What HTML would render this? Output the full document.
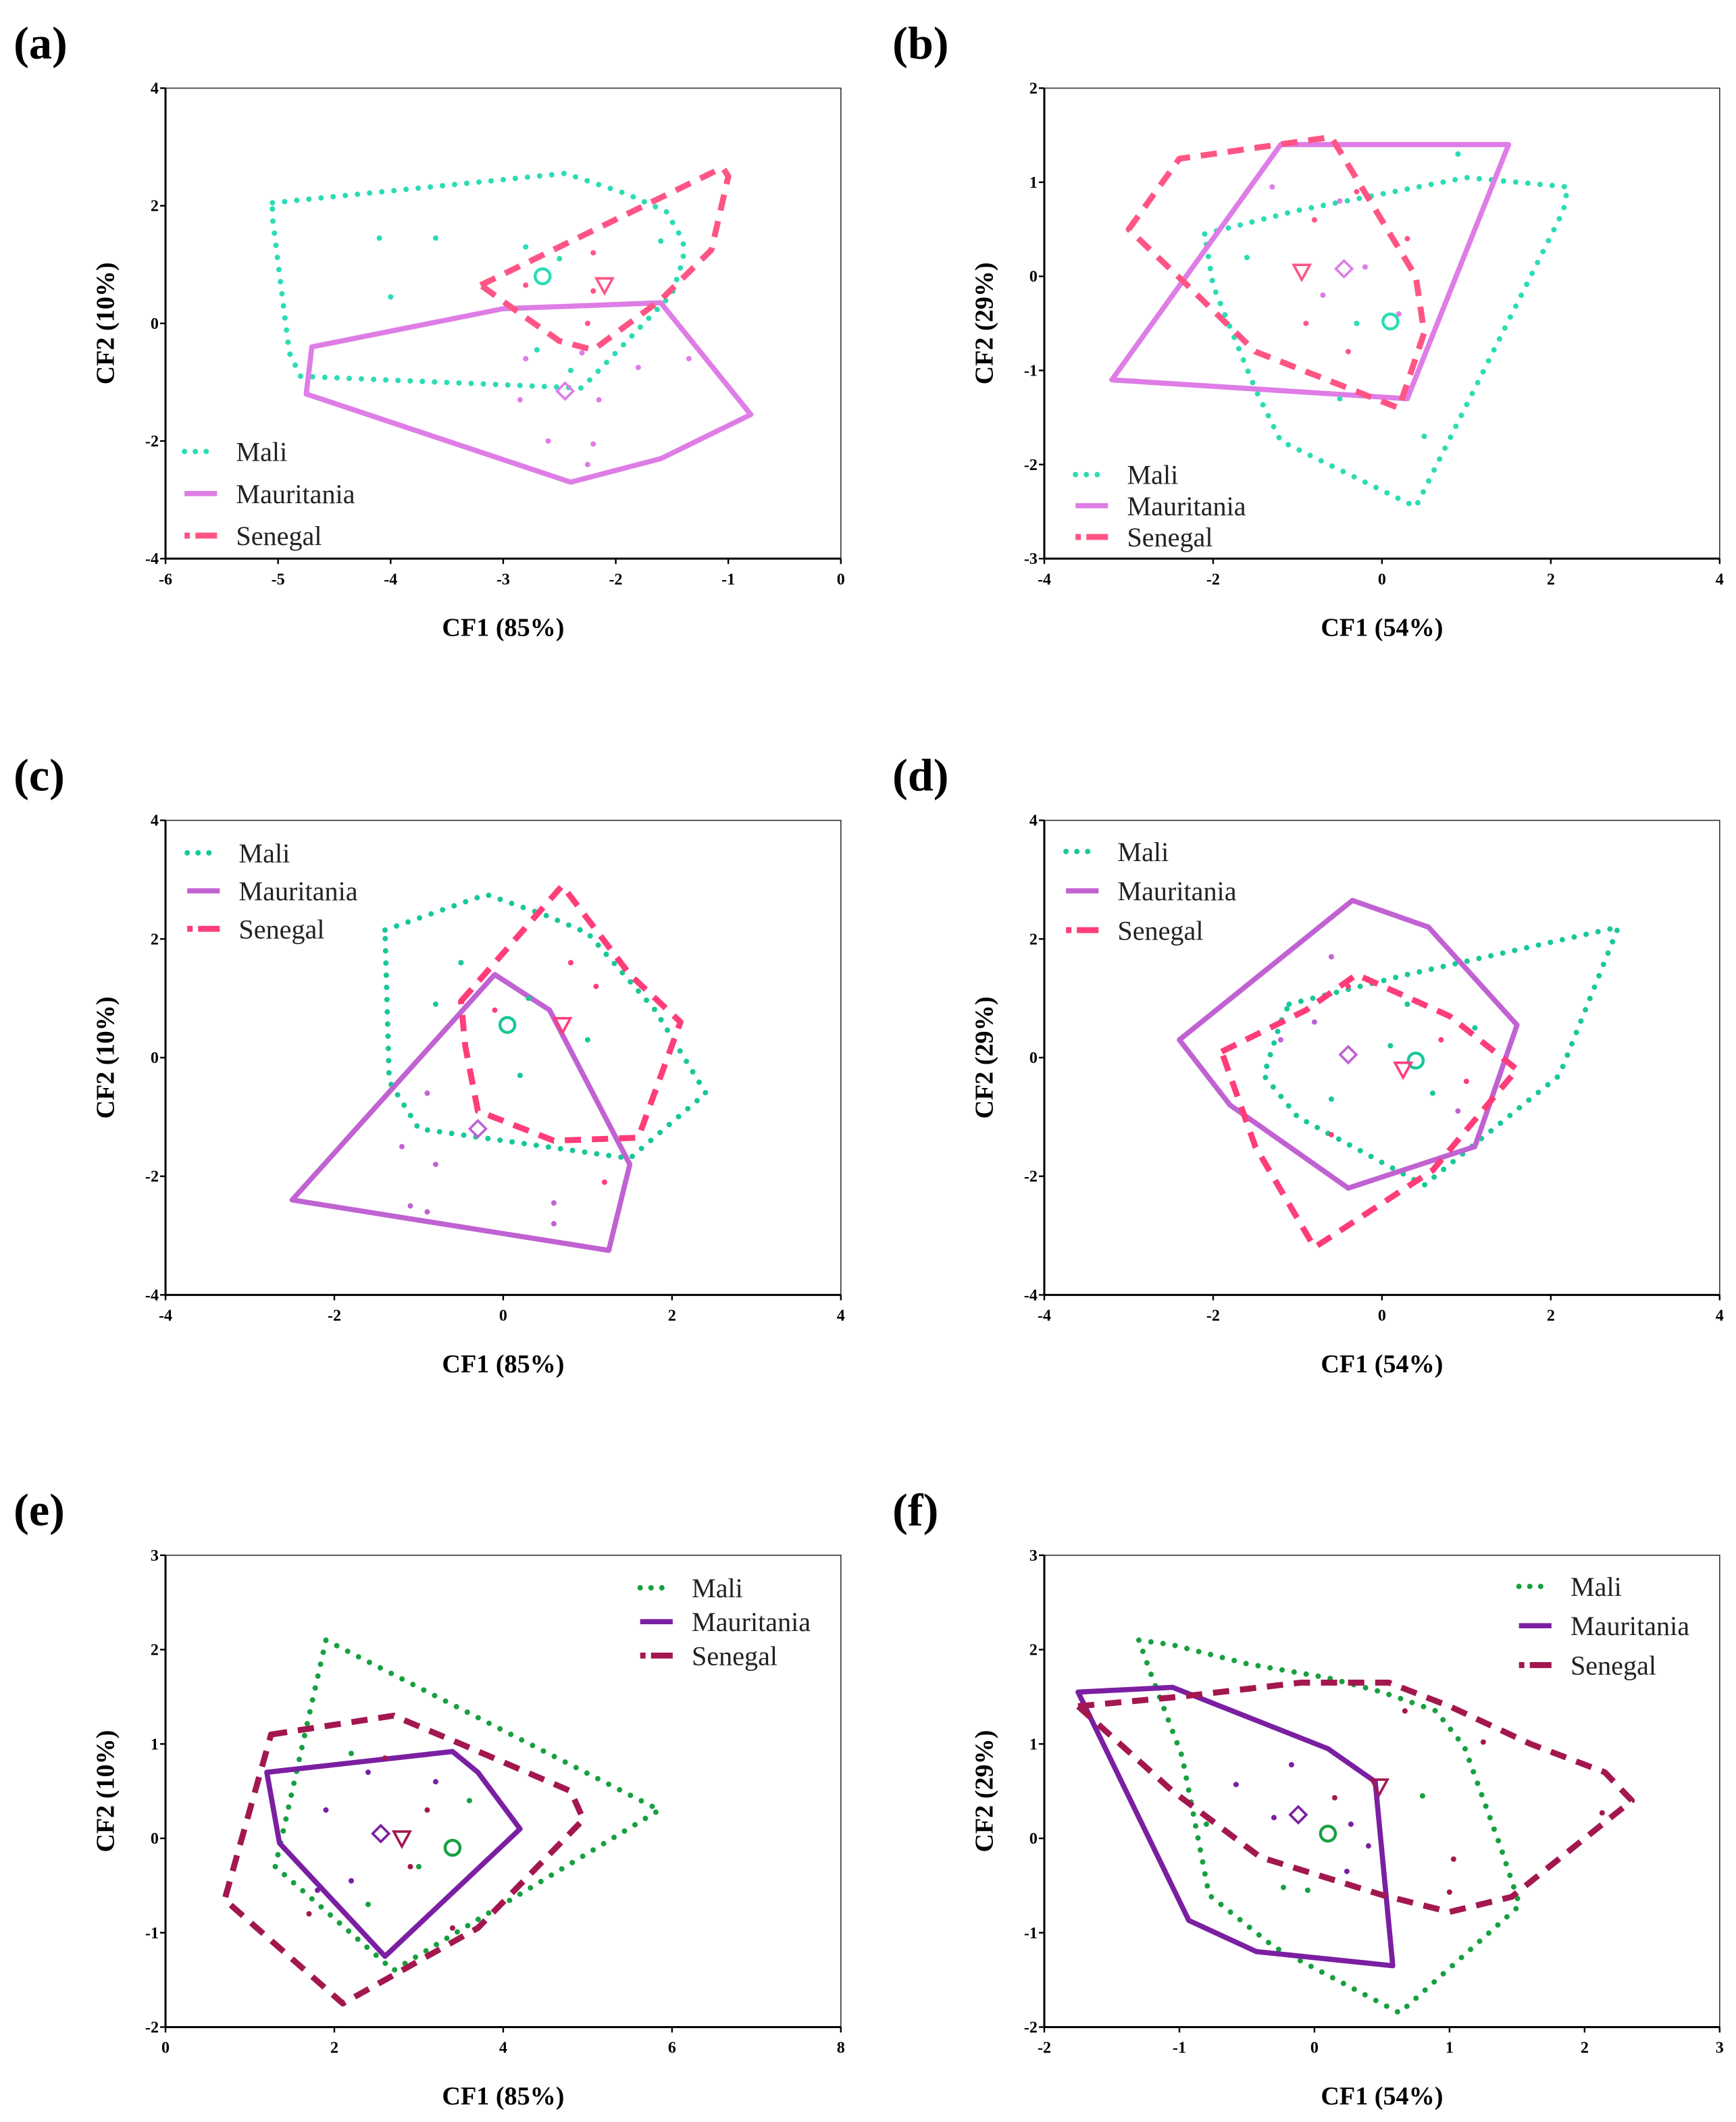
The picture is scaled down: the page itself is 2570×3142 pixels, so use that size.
<!DOCTYPE html>
<html><head><meta charset="utf-8">
<style>
html,body{margin:0;padding:0;background:#fff;}
svg{display:block;}
text{font-family:"Liberation Serif",serif;}
</style></head>
<body>
<svg id="fig" width="2570" height="3142" viewBox="0 0 1280 1565" xmlns="http://www.w3.org/2000/svg"></svg>
<script>
// ---- data (CF1, CF2) per panel ----
const aMali = [[-5.05,2.05],[-2.45,2.55],[-1.9,2.2],[-1.55,1.9],[-1.4,1.4],[-1.4,1.1],[-1.5,0.5],[-1.8,-0.1],[-2.3,-1.1],[-4.8,-0.9],[-4.9,-0.5],[-5.05,1.8]];
const aMaur = [[-4.7,-0.4],[-3,0.25],[-1.6,0.35],[-0.8,-1.55],[-1.6,-2.3],[-2.4,-2.7],[-4.75,-1.2]];
const aSen = [[-3.2,0.65],[-1.05,2.65],[-1.0,2.5],[-1.15,1.25],[-1.6,0.4],[-2.2,-0.45],[-2.5,-0.3],[-2.8,0.1]];
const aCent = [[-2.65,0.8],[-2.45,-1.15],[-2.1,0.65]];
const aPtsMali = [[-4.1,1.45],[-3.6,1.45],[-4.0,0.45],[-2.8,1.3],[-2.5,1.1],[-1.6,1.4],[-2.4,-0.8],[-2.7,-0.45]];
const aPtsMaur = [[-2.8,-0.6],[-2.3,-0.5],[-1.8,-0.75],[-1.35,-0.6],[-2.85,-1.3],[-2.6,-2.0],[-2.2,-2.05],[-2.25,-2.4],[-2.15,-1.3]];
const aPtsSen = [[-2.8,0.65],[-2.2,0.55],[-2.25,0.0],[-2.2,1.2]];

const bMali = [[-2.1,0.45],[-1,0.7],[1.0,1.05],[2.2,0.95],[2.15,0.7],[0.4,-2.45],[-1.2,-1.75],[-1.5,-1.2],[-2.0,-0.1]];
const bMaur = [[-1.2,1.4],[1.5,1.4],[0.3,-1.3],[-3.2,-1.1]];
const bSen = [[-3.0,0.5],[-2.4,1.25],[-0.6,1.48],[0.4,0.0],[0.5,-0.6],[0.2,-1.4],[-1.5,-0.8],[-2.3,-0.1]];
const bCent = [[0.1,-0.48],[-0.45,0.08],[-0.95,0.05]];
const bPtsMali = [[-0.3,-0.5],[0.5,-1.7],[-0.5,-1.3],[0.9,1.3],[-1.6,0.2]];
const bPtsMaur = [[-1.3,0.95],[-0.5,0.8],[-0.2,0.1],[0.2,-0.4],[-0.7,-0.2]];
const bPtsSen = [[-0.8,0.6],[-0.3,0.9],[-0.9,-0.5],[0.3,0.4],[-0.4,-0.8]];

const cMali = [[-1.4,2.15],[-0.2,2.75],[0.5,2.4],[1.0,2.1],[1.8,0.8],[2.4,-0.6],[1.5,-1.7],[-1.0,-1.2],[-1.35,-0.4]];
const cMaur = [[-0.1,1.4],[0.55,0.8],[1.5,-1.8],[1.25,-3.25],[-2.5,-2.4]];
const cSen = [[-0.5,0.95],[0.7,2.9],[1.5,1.4],[2.1,0.6],[1.6,-1.35],[0.6,-1.4],[-0.3,-0.9],[-0.45,0.2]];
const cCent = [[0.05,0.55],[-0.3,-1.2],[0.7,0.55]];
const cPtsMali = [[-0.8,0.9],[0.2,-0.3],[-0.5,1.6],[1.0,0.3],[0.3,1.0]];
const cPtsMaur = [[-1.2,-1.5],[-0.8,-1.8],[-1.1,-2.5],[-0.9,-2.6],[0.6,-2.45],[0.6,-2.8],[-0.9,-0.6]];
const cPtsSen = [[1.1,1.2],[0.8,1.6],[1.2,-2.1],[-0.1,0.8]];

const dMali = [[-1.1,0.9],[0.3,1.4],[2.8,2.2],[2.1,-0.3],[0.5,-2.15],[-1.0,-1.0],[-1.4,-0.3],[-1.2,0.6]];
const dMaur = [[-0.35,2.65],[0.55,2.2],[1.6,0.55],[1.1,-1.5],[-0.4,-2.2],[-1.8,-0.8],[-2.4,0.3]];
const dSen = [[-1.9,0.1],[-0.9,0.8],[-0.3,1.4],[0.8,0.7],[1.6,-0.2],[0.6,-1.9],[-0.8,-3.2],[-1.5,-1.5]];
const dCent = [[0.4,-0.05],[-0.4,0.05],[0.25,-0.2]];
const dPtsMali = [[0.1,0.2],[0.6,-0.6],[1.1,0.5],[-0.6,-0.7],[0.3,0.9]];
const dPtsMaur = [[-0.6,1.7],[-0.8,0.6],[0.9,-0.9],[-1.2,0.3]];
const dPtsSen = [[-0.4,1.2],[0.7,0.3],[-0.6,-1.3],[1.0,-0.4]];

const eMali = [[1.9,2.1],[5.85,0.3],[2.7,-1.4],[1.3,-0.3],[1.7,1.3]];
const eMaur = [[1.2,0.7],[3.4,0.92],[3.7,0.7],[4.2,0.1],[2.6,-1.25],[1.35,-0.05]];
const eSen = [[1.25,1.1],[2.7,1.3],[3.5,1.0],[4.8,0.5],[4.95,0.2],[3.7,-0.95],[2.1,-1.75],[0.7,-0.65]];
const eCent = [[3.4,-0.1],[2.55,0.05],[2.8,0.0]];
const ePtsMali = [[2.2,0.9],[3.0,-0.3],[2.4,-0.7],[3.6,0.4]];
const ePtsMaur = [[1.9,0.3],[2.4,0.7],[3.2,0.6],[2.2,-0.45],[1.8,-0.55]];
const ePtsSen = [[2.6,0.85],[3.1,0.3],[2.9,-0.3],[1.7,-0.8],[3.4,-0.95]];

const fMali = [[-1.3,2.1],[-1.05,2.05],[-0.5,1.85],[0.1,1.7],[0.5,1.55],[0.9,1.35],[1.11,0.97],[1.38,-0.1],[1.52,-0.71],[0.63,-1.85],[-0.3,-1.15],[-0.78,-0.6],[-0.98,0.87],[-1.2,1.7]];
const fMaur = [[-1.75,1.55],[-1.05,1.6],[0.1,0.95],[0.45,0.6],[0.58,-1.35],[-0.43,-1.2],[-0.93,-0.87]];
const fSen = [[-1.75,1.4],[-1.0,1.5],[-0.1,1.65],[0.55,1.65],[1.0,1.4],[1.6,1.0],[2.15,0.7],[2.35,0.4],[1.46,-0.62],[1.0,-0.78],[0.5,-0.6],[-0.4,-0.2],[-1.05,0.5]];
const fCent = [[0.1,0.05],[-0.12,0.25],[0.48,0.55]];
const fPtsMali = [[0.8,0.45],[-0.23,-0.52],[-0.05,-0.55],[-0.8,0.15]];
const fPtsMaur = [[-0.17,0.78],[-0.58,0.57],[-0.3,0.22],[0.27,0.15],[0.4,-0.08],[0.24,-0.35]];
const fPtsSen = [[0.15,0.43],[1.03,-0.22],[1.0,-0.57],[1.25,1.02],[0.67,1.35],[2.13,0.27]];

const ticksA_X = ["-6","-5","-4","-3","-2","-1","0"];
const ticksA_Y = ["-4","-2","0","2","4"];
const ticksB_X = ["-4","-2","0","2","4"];
const ticksB_Y = ["-3","-2","-1","0","1","2"];
const ticksC_Y = ["-4","-2","0","2","4"];
const ticksE_X = ["0","2","4","6","8"];
const ticksE_Y = ["-2","-1","0","1","2","3"];
const ticksF_X = ["-2","-1","0","1","2","3"];
const ticksF_Y = ["-2","-1","0","1","2","3"];

const NS="http://www.w3.org/2000/svg";
const svg=document.getElementById('fig');
function mk(tag,attrs,parent){const e=document.createElementNS(NS,tag);for(const k in attrs)e.setAttribute(k,attrs[k]);(parent||svg).appendChild(e);return e;}

const light={mali:"#2bdcb4",maur:"#de7de6",sen:"#ff5584"};
const dark={mali:"#17a040",maur:"#7b1fa2",sen:"#a3174f"};

function panel(o){
  const g=mk('g',{});
  
  
  const sx=v=>o.x0+(v-o.xd[0])/(o.xd[1]-o.xd[0])*(o.x1-o.x0);
  const sy=v=>o.y1-(v-o.yd[0])/(o.yd[1]-o.yd[0])*(o.y1-o.y0);
  const c=o.col;
  const L=mk('text',{x:o.x0-112,y:o.y0-22,'font-size':34,'font-weight':'bold'},g);L.textContent='('+o.id+')';
  
  const fr=mk('rect',{x:o.x0,y:o.y0,width:o.x1-o.x0,height:o.y1-o.y0,fill:'none',stroke:'#333','stroke-width':0.8},g);
  
  mk('line',{x1:o.x0,y1:o.y0,x2:o.x0,y2:o.y1,stroke:'#000','stroke-width':1.5},g);
  mk('line',{x1:o.x0,y1:o.y1,x2:o.x1,y2:o.y1,stroke:'#000','stroke-width':1.5},g);
  o.tx.forEach(t=>{const v=parseFloat(t),X=sx(v);
    mk('line',{x1:X,y1:o.y1,x2:X,y2:o.y1+4,stroke:'#000','stroke-width':1.2},g);
    const tt=mk('text',{x:X,y:o.y1+19,'font-size':12,'font-weight':'bold','text-anchor':'middle'},g);tt.textContent=t;
    });
  o.ty.forEach(t=>{const v=parseFloat(t),Y=sy(v);
    mk('line',{x1:o.x0-4,y1:Y,x2:o.x0,y2:Y,stroke:'#000','stroke-width':1.2},g);
    const tt=mk('text',{x:o.x0-5,y:Y+4,'font-size':12,'font-weight':'bold','text-anchor':'end'},g);tt.textContent=t;
    });
  const xl=mk('text',{x:(o.x0+o.x1)/2,y:o.y1+57,'font-size':19,'font-weight':'bold','text-anchor':'middle'},g);xl.textContent=o.xl;
  
  const yc=(o.y0+o.y1)/2;
  const yl=mk('text',{x:o.x0-38,y:yc,'font-size':19,'font-weight':'bold','text-anchor':'middle',transform:`rotate(-90 ${o.x0-38} ${yc})`},g);yl.textContent=o.yl;
  
  const poly=(pts,st,nm)=>{const p=mk('polygon',Object.assign({points:pts.map(q=>sx(q[0])+','+sy(q[1])).join(' '),fill:'none','stroke-linejoin':'round'},st),g);
    };
  const stMali={stroke:c.mali,'stroke-width':4,'stroke-dasharray':'0 9','stroke-linecap':'round'};
  const stMaur={stroke:c.maur,'stroke-width':3.8};
  const stSen={stroke:c.sen,'stroke-width':4.4,'stroke-dasharray':'12 8'};
  poly(o.mali,stMali,'mali-hull');poly(o.maur,stMaur,'mauritania-hull');poly(o.sen,stSen,'senegal-hull');
  const dots=(pts,col,nm)=>pts.forEach(q=>{const d=mk('circle',{cx:sx(q[0]),cy:sy(q[1]),r:2,fill:col},g);
    });
  dots(o.pm,c.mali,'mali-point');dots(o.pa,c.maur,'mauritania-point');dots(o.ps,c.sen,'senegal-point');
  const cm=mk('circle',{cx:sx(o.cent[0][0]),cy:sy(o.cent[0][1]),r:5.5,fill:'none',stroke:c.mali,'stroke-width':2.2},g);
  
  const dx=sx(o.cent[1][0]),dy=sy(o.cent[1][1]);
  const dm=mk('polygon',{points:`${dx},${dy-6} ${dx+6},${dy} ${dx},${dy+6} ${dx-6},${dy}`,fill:'none',stroke:c.maur,'stroke-width':1.8},g);
  
  const tx=sx(o.cent[2][0]),ty=sy(o.cent[2][1]);
  const tm=mk('polygon',{points:`${tx-6},${ty-5} ${tx+6},${ty-5} ${tx},${ty+6}`,fill:'none',stroke:c.sen,'stroke-width':1.8},g);
  
  const names=['Mali','Mauritania','Senegal'],sts=[stMali,stMaur,stSen];
  names.forEach((n,i)=>{const ly=o.leg[1]+i*o.leg[2];
    const lg=mk('g',{},g);
    mk('line',Object.assign({x1:o.leg[0],y1:ly-5,x2:o.leg[0]+24,y2:ly-5},sts[i],{'stroke-dasharray':i==0?'0 8':(i==2?'4 4 12 0':'none')}),lg);
    const t=mk('text',{x:o.leg[0]+38,y:ly+2,'font-size':20,fill:'#222'},lg);t.textContent=n;});
}

panel({id:'a',x0:122,x1:620,y0:65,y1:412,xd:[-6,0],yd:[-4,4],tx:ticksA_X,ty:ticksA_Y,xl:'CF1 (85%)',yl:'CF2 (10%)',col:light,
  mali:aMali,maur:aMaur,sen:aSen,cent:aCent,pm:aPtsMali,pa:aPtsMaur,ps:aPtsSen,leg:[136,338,31]});
panel({id:'b',x0:770,x1:1268,y0:65,y1:412,xd:[-4,4],yd:[-3,2],tx:ticksB_X,ty:ticksB_Y,xl:'CF1 (54%)',yl:'CF2 (29%)',col:light,
  mali:bMali,maur:bMaur,sen:bSen,cent:bCent,pm:bPtsMali,pa:bPtsMaur,ps:bPtsSen,leg:[793,355,23]});
panel({id:'c',x0:122,x1:620,y0:605,y1:955,xd:[-4,4],yd:[-4,4],tx:ticksB_X,ty:ticksC_Y,xl:'CF1 (85%)',yl:'CF2 (10%)',col:{mali:"#18c79a",maur:"#c062d2",sen:"#ff3d78"},
  mali:cMali,maur:cMaur,sen:cSen,cent:cCent,pm:cPtsMali,pa:cPtsMaur,ps:cPtsSen,leg:[138,634,28]});
panel({id:'d',x0:770,x1:1268,y0:605,y1:955,xd:[-4,4],yd:[-4,4],tx:ticksB_X,ty:ticksC_Y,xl:'CF1 (54%)',yl:'CF2 (29%)',col:{mali:"#18c79a",maur:"#c062d2",sen:"#ff3d78"},
  mali:dMali,maur:dMaur,sen:dSen,cent:dCent,pm:dPtsMali,pa:dPtsMaur,ps:dPtsSen,leg:[786,633,29]});
panel({id:'e',x0:122,x1:620,y0:1147,y1:1495,xd:[0,8],yd:[-2,3],tx:ticksE_X,ty:ticksE_Y,xl:'CF1 (85%)',yl:'CF2 (10%)',col:dark,
  mali:eMali,maur:eMaur,sen:eSen,cent:eCent,pm:ePtsMali,pa:ePtsMaur,ps:ePtsSen,leg:[472,1176,25]});
panel({id:'f',x0:770,x1:1268,y0:1147,y1:1495,xd:[-2,3],yd:[-2,3],tx:ticksF_X,ty:ticksF_Y,xl:'CF1 (54%)',yl:'CF2 (29%)',col:dark,
  mali:fMali,maur:fMaur,sen:fSen,cent:fCent,pm:fPtsMali,pa:fPtsMaur,ps:fPtsSen,leg:[1120,1175,29]});
</script>
</body></html>
